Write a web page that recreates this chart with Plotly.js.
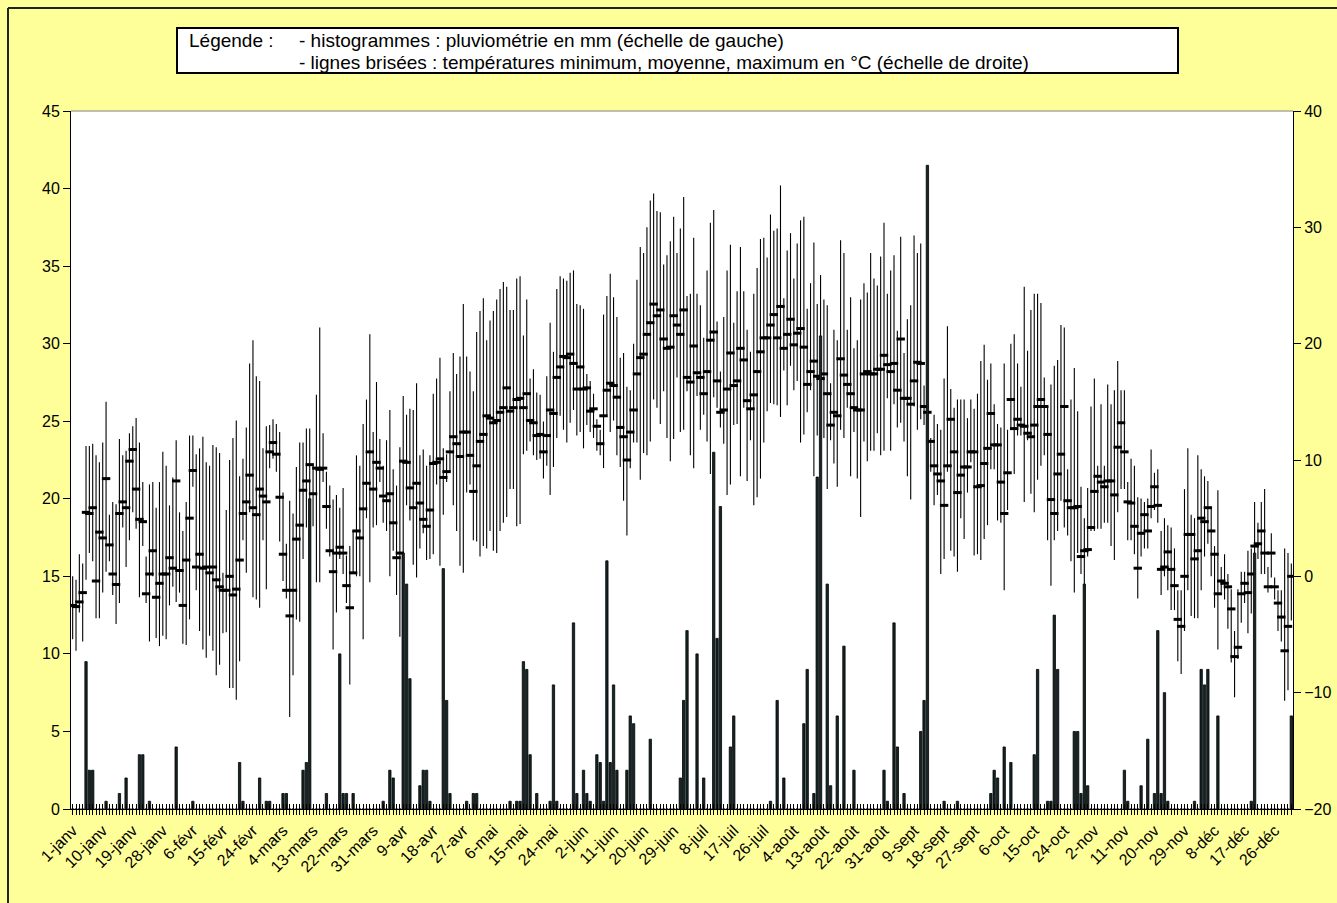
<!DOCTYPE html>
<html><head><meta charset="utf-8">
<script src="https://cdn.plot.ly/plotly-3.0.1.min.js"></script>
<style>html,body{margin:0;padding:0;background:#FFFF99;}#chart{width:1337px;height:903px;}</style>
</head><body><div id="chart"></div>
<script>
// ---- data ----
const months = ['janv','févr','mars','avr','mai','juin','juil','août','sept','oct','nov','déc'];
const monthDays = [31,29,31,30,31,30,31,31,30,31,30,31];

const tmax = [
0.0,-0.3,1.9,1.1,11.2,11.2,11.4,10.4,9.8,11.5,15.0,5.3,6.4,6.2,11.8,10.4,10.8,12.3,12.9,13.6,11.5,8.1,1.7,7.9,8.1,5.9,8.1,10.7,9.5,6.1,8.5,11.7,
5.5,3.9,6.4,12.1,12.1,10.5,11.0,12.0,9.8,9.5,11.3,11.1,10.6,0.3,5.7,10.0,11.9,13.4,8.6,10.1,12.8,18.3,20.3,17.2,16.8,11.0,12.9,13.0,13.5,13.1,12.4,7.2,2.8,6.5,
5.4,9.4,11.5,11.5,12.7,12.7,9.5,15.6,21.4,12.3,9.0,7.8,6.6,7.0,5.9,7.6,1.8,2.6,3.9,10.4,9.5,13.1,15.2,20.8,12.4,16.7,11.8,9.5,11.7,14.3,9.2,7.8,11.1,
15.5,13.9,14.4,14.3,16.6,10.4,10.9,9.5,10.4,15.7,17.0,18.8,11.0,10.5,15.9,19.2,17.4,18.9,23.4,18.9,17.6,15.9,21.0,22.8,23.9,20.3,22.0,22.8,23.8,24.7,25.3,24.9,22.9,
22.9,25.6,25.8,20.7,23.8,17.0,17.8,15.8,15.6,13.3,17.2,21.8,19.3,24.7,25.8,25.6,25.4,26.1,26.3,23.4,23.3,23.0,17.4,16.8,15.7,13.5,12.6,22.5,24.1,26.0,24.0,22.3,18.8,19.2,16.3,
16.0,20.0,25.5,28.3,27.8,30.0,32.3,32.9,31.4,31.3,26.8,27.6,28.8,30.9,27.8,29.9,32.6,24.1,24.3,29.1,24.3,23.3,20.5,26.3,30.4,31.5,21.9,17.6,22.3,26.3,28.5,21.8,24.5,
28.3,24.5,21.2,19.3,24.3,26.5,29.0,29.1,27.4,31.1,29.7,29.9,33.6,23.9,28.0,29.5,25.6,28.6,30.6,30.9,23.0,25.2,28.7,23.4,25.9,23.8,23.3,16.6,21.2,20.3,28.9,27.8,21.2,24.0,
19.6,20.3,23.8,25.2,24.4,27.8,25.6,25.0,27.5,30.4,24.3,26.3,27.6,21.1,29.2,19.2,22.1,23.3,29.3,27.8,28.6,16.4,16.3,11.9,13.9,13.1,12.6,17.0,21.5,16.1,14.5,15.2,15.2,15.2,
13.6,15.2,14.4,15.7,18.5,19.9,16.9,18.3,14.8,13.1,12.8,18.3,12.6,20.0,20.8,18.3,16.3,24.9,19.4,22.9,24.3,24.3,23.5,17.1,14.6,16.5,18.1,18.6,21.6,21.4,9.2,15.2,17.9,14.2,
7.7,5.0,7.6,14.6,17.0,9.5,14.8,9.5,16.5,14.8,16.0,18.5,16.0,16.0,8.1,10.1,9.5,6.8,6.7,6.4,6.7,10.9,8.9,9.2,3.9,5.0,4.4,4.2,2.4,-1.2,-1.2,7.5,11.0,
5.3,5.0,10.4,9.2,8.6,8.2,5.9,2.6,7.4,0.8,1.9,0.2,-1.1,-4.7,-1.1,0.4,0.4,2.2,2.4,6.4,4.6,6.4,7.5,0.8,3.7,-0.1,-1.2,-1.2,2.4,2.0,1.1
];
const tmin = [
-5.4,-6.4,-3.1,-5.6,-0.3,2.0,1.3,-3.6,-3.6,-1.4,0.4,1.3,-1.6,-4.1,-2.3,4.2,0.8,3.1,5.5,4.1,-1.8,2.6,-2.3,-5.6,0.0,-5.3,-6.0,-5.1,-5.4,-2.5,-0.9,-2.2,
-1.4,-5.8,-5.9,-3.7,7.7,-1.2,-4.7,-6.3,-7.0,-5.1,-6.4,-8.5,-7.6,-4.9,-4.8,-9.6,-9.6,-10.6,-7.3,3.1,0.3,5.5,-1.8,-2.0,-2.7,3.1,-1.1,9.3,10.1,9.0,3.0,-0.4,-1.9,-12.1,
-8.5,-3.7,-3.9,1.5,4.2,6.1,4.3,-0.5,-0.5,8.1,4.1,1.7,-6.3,-3.1,1.5,0.2,-2.3,-9.3,0.2,0.0,0.0,-5.4,5.0,-0.5,4.2,4.4,8.1,4.6,3.9,0.0,2.2,-1.6,-5.2,
2.0,6.1,4.8,1.0,-0.1,2.4,3.7,1.4,1.5,1.9,7.9,0.9,5.3,8.1,9.0,6.1,3.9,0.9,0.3,7.2,7.9,3.1,3.0,1.7,2.6,2.4,3.9,2.2,2.0,3.9,4.6,5.1,7.5,
7.5,4.3,4.5,10.5,10.8,11.6,10.4,10.0,10.1,8.4,9.5,7.0,9.4,11.9,13.8,12.6,11.5,13.2,14.3,12.1,12.4,11.0,13.0,12.4,11.9,10.8,10.4,9.3,13.9,12.4,13.4,10.4,9.4,6.5,3.5,
9.3,11.5,11.5,8.3,10.6,10.4,11.6,15.2,14.5,13.1,15.9,11.9,9.9,11.8,17.1,12.4,12.6,15.9,10.4,9.3,15.5,12.6,13.9,11.6,8.8,15.4,14.5,12.8,11.4,7.0,7.9,13.0,13.1,
8.6,14.5,8.2,11.7,6.1,6.8,8.4,11.5,14.2,14.9,14.8,14.7,13.7,17.7,14.7,18.1,16.0,16.8,11.5,12.2,14.1,16.0,8.6,12.1,15.2,11.9,7.5,11.7,9.7,7.7,12.6,11.9,14.5,8.6,
12.4,8.4,5.1,11.6,9.9,10.8,10.8,12.3,10.4,10.8,15.3,10.8,14.8,12.8,13.2,11.6,8.6,6.6,14.6,12.6,13.5,13.0,11.2,9.0,6.1,7.0,0.2,1.5,9.0,2.2,1.7,0.4,5.0,3.2,
7.2,9.8,1.8,1.9,1.4,3.2,4.4,9.2,9.2,4.8,4.6,-1.2,5.7,12.8,8.8,12.1,12.1,6.4,11.7,7.1,5.5,8.3,9.5,10.4,3.1,-0.8,3.1,3.9,6.5,4.2,3.5,1.3,-1.4,2.0,
0.2,-1.1,1.7,3.9,3.9,4.1,4.1,4.6,4.6,2.6,1.4,5.5,7.5,7.5,3.1,3.1,1.9,-1.9,1.7,2.4,2.4,5.0,5.7,4.6,-1.6,0.0,-1.2,-2.9,-2.9,-7.3,-8.4,-4.7,-1.2,
-3.4,-3.6,-3.6,-1.2,1.7,2.8,0.0,-2.7,-6.3,-1.4,-2.0,-4.5,-7.4,-10.4,-7.1,-4.0,-2.3,-4.9,-3.2,2.0,1.5,0.2,0.2,-1.4,-0.1,-2.0,-4.7,-5.6,-10.7,-9.8,-3.8
];
const tmean = [
-2.5,-2.6,-2.2,-1.4,5.5,5.4,5.9,-0.4,3.8,3.3,8.4,2.7,0.2,-0.7,5.4,6.4,5.9,9.9,10.9,7.5,4.9,4.7,-1.5,0.2,2.2,-1.8,-0.6,0.2,0.2,1.6,0.7,8.2,
0.5,-2.5,1.4,5.0,9.1,0.8,1.9,0.7,0.8,0.3,0.8,-0.3,-0.9,-1.2,-1.2,0.0,-1.6,-1.1,1.4,5.4,6.4,8.7,5.9,5.3,7.5,6.9,6.4,10.7,11.5,10.5,6.8,1.9,-1.2,-3.4,
-1.2,3.2,4.4,7.4,8.2,9.6,7.1,9.3,9.2,9.3,6.0,2.2,0.4,2.0,2.5,2.0,-0.8,-2.7,0.3,3.9,3.3,5.8,8.0,10.7,7.5,9.8,9.3,6.9,6.5,7.1,4.6,1.6,2.0,
9.9,9.8,7.6,5.9,8.0,6.3,4.9,4.3,5.7,9.7,9.8,10.1,8.5,9.0,10.7,12.0,11.4,10.3,12.4,12.4,10.4,7.3,9.5,11.6,12.2,13.8,13.6,13.2,13.4,14.1,14.5,16.2,14.2,
14.5,15.2,15.3,14.5,15.7,13.4,13.2,12.1,12.2,10.7,12.1,14.3,14.0,17.1,18.0,18.9,18.8,19.1,18.3,16.1,18.0,16.1,16.2,14.2,14.4,12.9,11.4,13.8,16.0,16.6,16.4,15.4,12.8,12.0,10.0,
12.4,14.3,17.4,18.8,19.1,20.8,21.8,23.4,22.4,22.9,20.4,19.6,19.7,22.4,21.6,20.8,22.9,17.1,16.7,19.8,17.5,17.1,15.7,17.6,20.3,21.0,16.8,14.1,14.3,16.1,19.2,16.4,16.8,
19.6,18.6,15.1,14.4,15.6,17.6,19.3,20.5,20.5,21.6,22.5,20.5,23.2,19.6,20.8,22.1,19.9,20.9,21.3,19.7,16.5,17.6,18.5,17.2,17.0,17.4,15.7,13.0,14.1,13.8,18.7,17.3,16.5,15.7,
14.5,14.3,14.3,17.4,17.6,17.4,17.4,17.8,17.8,19.0,18.2,17.6,18.3,16.0,20.4,15.3,15.3,14.8,16.8,18.4,18.3,14.6,14.1,11.6,9.5,8.8,8.2,6.1,9.5,13.5,10.7,7.2,8.7,9.4,
9.4,10.7,10.7,7.7,7.8,9.7,11.0,14.0,11.3,11.3,8.1,5.4,8.9,15.2,12.7,13.5,13.0,12.9,12.3,12.0,13.0,14.6,15.2,14.6,12.2,6.6,5.4,8.8,10.5,14.6,6.5,5.9,5.9,6.0,
1.7,2.2,2.3,4.2,7.3,8.6,8.1,7.7,8.2,8.2,7.0,11.1,13.2,10.7,6.4,6.3,4.3,0.7,3.7,5.3,3.9,6.0,7.7,6.1,0.6,0.8,2.1,0.6,-0.8,-3.7,-4.3,0.0,3.6,
3.6,1.5,2.2,5.0,4.7,5.9,3.9,1.9,-1.5,-0.4,-0.6,-0.9,-2.8,-6.9,-6.1,-1.5,-0.6,-1.4,0.2,2.6,2.8,3.9,2.0,-0.9,2.0,-0.9,-2.3,-3.5,-6.4,-4.3,0.0
];

// rainy days (day index from 1 January) and rainfall in mm
const rainDay = [4,5,6,10,14,16,20,21,23,31,36,50,51,56,58,59,63,64,69,70,71,76,80,81,82,84,93,95,96,
99,100,101,104,105,106,107,111,112,113,118,120,121,131,133,134,135,136,137,139,143,144,145,150,151,153,154,155,157,158,159,160,161,162,163,166,
167,168,173,182,183,184,187,189,192,193,194,197,198,209,211,213,219,220,222,223,224,226,227,229,231,
234,243,244,246,247,249,254,255,256,261,265,275,276,277,279,281,288,289,292,293,294,295,300,
301,302,303,304,315,316,320,322,324,325,326,327,328,336,338,339,340,343,353,354,365];
const rainMm = [9.5,2.5,2.5,0.5,1.0,2.0,3.5,3.5,0.5,4.0,0.5,3.0,0.5,2.0,0.5,0.5,1.0,1.0,2.5,3.0,20.0,1.0,10.0,1.0,1.0,1.0,0.5,2.5,2.0,
16.5,14.5,8.4,1.5,2.5,2.5,0.5,15.5,7.0,1.0,0.5,1.0,1.0,0.5,0.5,0.5,9.5,9.0,3.5,1.0,0.5,8.0,0.5,12.0,1.0,2.5,1.0,0.5,3.5,3.0,0.5,16.0,3.0,8.0,2.5,2.5,
6.0,5.5,4.5,2.0,7.0,11.5,10.0,2.0,23.0,11.0,19.5,4.0,6.0,0.5,7.0,2.0,5.5,9.0,1.0,21.4,30.5,14.5,1.5,6.0,10.5,
2.5,2.5,0.5,12.0,4.0,1.0,5.0,7.0,41.5,0.5,0.5,1.0,2.5,2.0,4.0,3.0,3.5,9.0,0.5,0.5,12.5,9.0,5.0,
5.0,1.0,14.5,1.5,2.5,0.5,1.5,4.5,1.0,11.5,1.0,7.5,0.5,0.5,9.0,8.0,9.0,6.0,0.5,16.5,6.0];

// ---- derived ----
const dayLabels = [];
months.forEach((m, k) => { for (let d = 1; d <= monthDays[k]; d++) dayLabels.push(d + '-' + m); });
const dayIdx = dayLabels.map((_, i) => i);
const precip = dayIdx.map(() => 0);
rainDay.forEach((d, k) => { precip[d] = rainMm[k]; });
const tickText = dayIdx.map(i => (i % 9 === 0 ? dayLabels[i] : ''));

const FONT = 'Arial, "Liberation Sans", sans-serif';
const PL = 71, PR = 1293, PT = 111, PB = 809;
const px = x => (x - PL) / (PR - PL);
const py = y => (PB - y) / (PB - PT);

const tempTrace = {
  type: 'scatter', mode: 'markers', x: dayIdx, y: tmean, xaxis: 'x', yaxis: 'y',
  marker: { symbol: 'line-ew', size: 6, color: '#000', line: { width: 3, color: '#000' } },
  error_y: { type: 'data', symmetric: false,
    array: tmax.map((v, i) => v - tmean[i]),
    arrayminus: tmean.map((v, i) => v - tmin[i]),
    width: 0, thickness: 1.1, color: '#000' },
  hoverinfo: 'skip', showlegend: false
};
const rainTrace = {
  type: 'bar', x: dayIdx, y: precip, xaxis: 'x2', yaxis: 'y2', width: 0.7,
  marker: { color: '#142626', line: { color: '#000', width: 0.8 } },
  hoverinfo: 'skip', showlegend: false
};

const layout = {
  width: 1337, height: 903,
  margin: { l: PL, r: 1337 - PR, t: PT, b: 903 - PB, pad: 0 },
  paper_bgcolor: '#FFFF99', plot_bgcolor: '#FFFFFF',
  font: { family: FONT, size: 16, color: '#000' },
  showlegend: false,
  xaxis: { range: [-0.5, dayIdx.length - 0.5], tickmode: 'array', tickvals: dayIdx, ticktext: tickText,
    tickangle: -45, ticks: 'outside', ticklen: 5, tickwidth: 1, tickcolor: '#000',
    showline: true, linecolor: '#000', linewidth: 1, showgrid: false, zeroline: false,
    tickfont: { family: FONT, size: 16 } },
  xaxis2: { overlaying: 'x', anchor: 'y2', side: 'bottom', range: [-0.5, dayIdx.length - 0.5],
    tickmode: 'array', tickvals: dayIdx, ticks: 'inside', ticklen: 5, tickwidth: 1, tickcolor: '#000',
    showticklabels: false, showline: false, showgrid: false, zeroline: false },
  yaxis: { side: 'right', range: [-20, 40], tickmode: 'linear', tick0: 0, dtick: 10,
    ticks: 'outside', ticklen: 7, tickcolor: '#000', showline: true, linecolor: '#000', linewidth: 1,
    showgrid: false, zeroline: false, tickfont: { family: FONT, size: 16 } },
  yaxis2: { side: 'left', overlaying: 'y', anchor: 'x2', range: [0, 45], tickmode: 'linear', tick0: 0, dtick: 5,
    ticks: 'outside', ticklen: 7, tickcolor: '#000', showline: true, linecolor: '#000', linewidth: 1,
    showgrid: false, zeroline: false, tickfont: { family: FONT, size: 16 } },
  shapes: [
    { type: 'line', xref: 'paper', yref: 'paper', x0: 0, x1: 1, y0: 1, y1: 1, line: { color: '#808080', width: 1 } },
    { type: 'line', xref: 'paper', yref: 'paper', x0: px(8), x1: px(8), y0: py(910), y1: py(8), line: { color: '#222', width: 2 } },
    { type: 'line', xref: 'paper', yref: 'paper', x0: px(8), x1: px(1345), y0: py(8), y1: py(8), line: { color: '#222', width: 2 } },
    { type: 'rect', xref: 'paper', yref: 'paper', x0: px(177), x1: px(1178), y0: py(73), y1: py(28), fillcolor: '#FFFFFF', line: { color: '#000', width: 2 } }
  ],
  annotations: [
    { text: 'Légende :', xref: 'paper', yref: 'paper', x: px(187), y: py(41), xanchor: 'left', yanchor: 'middle', showarrow: false, font: { family: FONT, size: 19 } },
    { text: '- histogrammes : pluviométrie en mm (échelle de gauche)', xref: 'paper', yref: 'paper', x: px(297), y: py(41), xanchor: 'left', yanchor: 'middle', showarrow: false, font: { family: FONT, size: 19 } },
    { text: '- lignes brisées : températures minimum, moyenne, maximum en °C (échelle de droite)', xref: 'paper', yref: 'paper', x: px(297), y: py(62), xanchor: 'left', yanchor: 'middle', showarrow: false, font: { family: FONT, size: 19 } }
  ]
};

Plotly.newPlot('chart', [tempTrace, rainTrace], layout, { displayModeBar: false, staticPlot: true });
</script></body></html>
